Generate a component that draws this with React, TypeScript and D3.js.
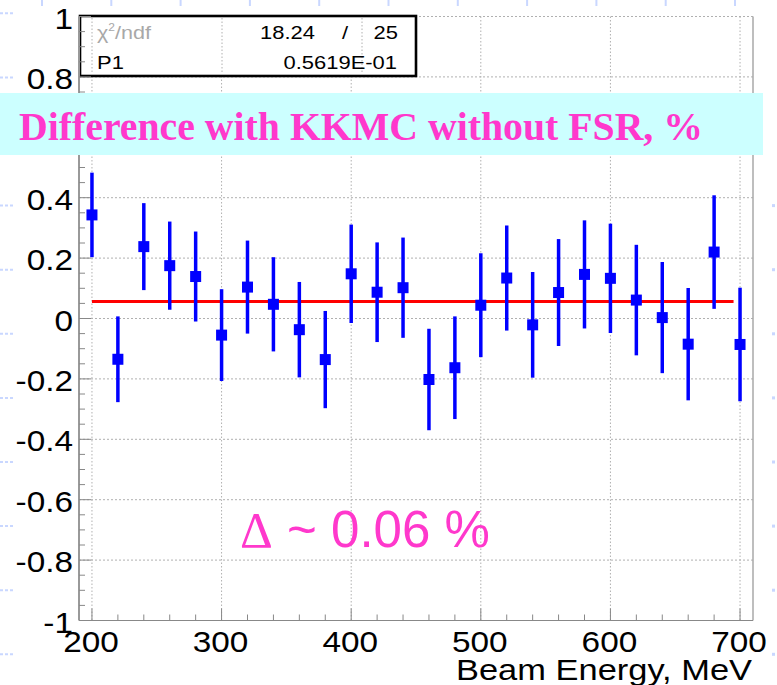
import React from "react";
import * as d3 from "d3";

// Beam energy points (MeV), relative difference (%) and its error
const energies = [200, 220, 240, 260, 280, 300, 320, 340, 360, 380, 400, 420, 440, 460, 480, 500, 520, 540, 560, 580, 600, 620, 640, 660, 680, 700];
const diffValues = [0.343, -0.135, 0.238, 0.175, 0.139, -0.055, 0.104, 0.047, -0.037, -0.136, 0.148, 0.087, 0.102, -0.202, -0.163, 0.044, 0.134, -0.021, 0.086, 0.146, 0.133, 0.061, 0.003, -0.085, 0.220, -0.086];
const diffErrors = [0.140, 0.142, 0.144, 0.146, 0.149, 0.152, 0.154, 0.156, 0.158, 0.161, 0.163, 0.165, 0.166, 0.168, 0.170, 0.172, 0.174, 0.175, 0.177, 0.179, 0.181, 0.183, 0.184, 0.186, 0.188, 0.188];

// Constant fit result
const fitP1 = 0.05619;
const fitRange = [200, 695];
const chi2Text = "18.24";
const ndfText = "25";
const p1Text = "0.5619E-01";

const xTickValues = [200, 300, 400, 500, 600, 700];
const yTickValues = [1, 0.8, 0.6, 0.4, 0.2, 0, -0.2, -0.4, -0.6, -0.8, -1];
// the 0.6 label sits under the title banner
const yLabelValues = [1, 0.8, 0.4, 0.2, 0, -0.2, -0.4, -0.6, -0.8, -1];

const bannerText = "Difference with KKMC without FSR, %";
const deltaText = "0.06 %";
const xTitle = "Beam Energy, MeV";

const W = 777;
const H = 685;
const PINK = "#ff38cc";
const SANS = "'Liberation Sans', Arial, Helvetica, sans-serif";
const SERIF = "'Liberation Serif', 'Times New Roman', serif";

export default function App() {
  const x = d3.scaleLinear().domain([190, 710]).range([79, 753]);
  const y = d3.scaleLinear().domain([-1, 1]).range([620.5, 16.5]);

  const xMinor = d3.range(200, 701, 20);
  const yMinor = d3.range(-1, 1.0001, 0.05).map((v) => +v.toFixed(2));
  const fmtY = (v: number) => String(+v.toFixed(1));

  const gridColor = "#b0b0b0";
  const slideBlue = "#c9d7ff";

  // decorative slide markers around the picture
  const sideRows = d3.range(0, 11).map((i) => 13.3 + i * 64.1);
  const topCols = d3.range(0, 11).map((i) => 42 + i * 69.3);

  const boxX0 = 80, boxX1 = 416, boxY0 = 16, boxY1 = 76;

  return (
    <svg
      width={W}
      height={H}
      viewBox={`0 0 ${W} ${H}`}
      style={{ position: "absolute", left: 0, top: 0, background: "#fff" }}
    >
      <rect x={0} y={0} width={W} height={H} fill="#fff" />

      {/* slide decoration */}
      {sideRows.map((r, i) => (
        <line key={"l" + i} x1={0} x2={15} y1={r} y2={r} stroke={slideBlue} strokeWidth={2} strokeDasharray="3,2" />
      ))}
      {sideRows.slice(3).map((r, i) => (
        <rect key={"r" + i} x={772} y={r - 1.5} width={3} height={3} fill={slideBlue} />
      ))}
      {topCols.map((c, i) => (
        <line key={"t" + i} x1={c} x2={c} y1={0} y2={6} stroke={slideBlue} strokeWidth={2} />
      ))}

      {/* grid */}
      {xTickValues.map((v) => (
        <line key={"gx" + v} x1={x(v)} x2={x(v)} y1={y(1)} y2={y(-1)} stroke={gridColor} strokeWidth={1} strokeDasharray="1.5,2" />
      ))}
      {yTickValues.filter((v) => Math.abs(v) < 1).map((v) => (
        <line key={"gy" + v} x1={x(190)} x2={x(710)} y1={y(v)} y2={y(v)} stroke={gridColor} strokeWidth={1} strokeDasharray="2,2" />
      ))}
      <line x1={x(190)} x2={x(710)} y1={y(1)} y2={y(1)} stroke={gridColor} strokeWidth={1} strokeDasharray="2,2" />

      {/* statistics box */}
      <rect x={boxX0} y={boxY0} width={boxX1 - boxX0} height={boxY1 - boxY0} fill="#fff" stroke="#000" strokeWidth={2.6} />
      {[92, 222, 362].map((c) => (
        <line key={"bx" + c} x1={c} x2={c} y1={boxY0 + 2} y2={boxY1 - 2} stroke={gridColor} strokeWidth={1} strokeDasharray="1.5,2" />
      ))}
      <g fontFamily={SANS} fontSize={18}>
        <text transform="translate(97,39) scale(1.2,1)" fill="#a8a8a8" fontWeight={300}>
          χ<tspan fontSize={10} dy={-8}>2</tspan><tspan dy={8}>/ndf</tspan>
        </text>
        <text transform="translate(315,39) scale(1.22,1)" textAnchor="end" fill="#000">{chi2Text}</text>
        <text transform="translate(348,39) scale(1.22,1)" textAnchor="end" fill="#000">/</text>
        <text transform="translate(398,39) scale(1.22,1)" textAnchor="end" fill="#000">{ndfText}</text>
        <text transform="translate(97,69) scale(1.22,1)" fill="#000">P1</text>
        <text transform="translate(397,69) scale(1.22,1)" textAnchor="end" fill="#000">{p1Text}</text>
      </g>

      {/* frame and axes */}
      <line x1={x(710)} x2={x(710)} y1={y(1)} y2={y(-1)} stroke="#a8a8a8" strokeWidth={1.5} />
      <line x1={x(190)} x2={x(710)} y1={y(-1)} y2={y(-1)} stroke="#888" strokeWidth={1.2} />
      <line x1={x(190)} x2={x(190)} y1={y(1)} y2={y(-1)} stroke="#999" strokeWidth={2} />

      {yMinor.map((v) => {
        const major = Math.abs(v * 5 - Math.round(v * 5)) < 1e-6;
        return (
          <line key={"yt" + v} x1={x(190)} x2={x(190) + (major ? 12 : 6)} y1={y(v)} y2={y(v)} stroke="#888" strokeWidth={1} />
        );
      })}
      {xMinor.map((v) => {
        const major = v % 100 === 0;
        return (
          <line key={"xt" + v} x1={x(v)} x2={x(v)} y1={y(-1)} y2={y(-1) - (major ? 12 : 6)} stroke="#888" strokeWidth={1} />
        );
      })}

      <g fontFamily={SANS} fontSize={29} fill="#000">
        {yLabelValues.map((v) => (
          <text key={"yl" + v} transform={`translate(73,${y(v) + 12}) scale(1.15,1)`} textAnchor="end">
            {fmtY(v)}
          </text>
        ))}
        {xTickValues.map((v) => (
          <text key={"xl" + v} transform={`translate(${x(v) - 1},652) scale(1.15,1)`} textAnchor="middle">
            {v}
          </text>
        ))}
      </g>
      <text x={752} y={680} textAnchor="end" fontFamily={SANS} fontSize={30} textLength={296} lengthAdjust="spacingAndGlyphs" fill="#000">
        {xTitle}
      </text>

      {/* fit line */}
      <line x1={x(fitRange[0])} x2={x(fitRange[1])} y1={y(fitP1)} y2={y(fitP1)} stroke="#ff0000" strokeWidth={3} />

      {/* data points with errors */}
      {energies.map((e, i) => (
        <g key={"p" + e}>
          <line
            x1={x(e)}
            x2={x(e)}
            y1={y(diffValues[i] + diffErrors[i])}
            y2={y(diffValues[i] - diffErrors[i])}
            stroke="#0000ff"
            strokeWidth={3.5}
          />
          <rect x={x(e) - 5.5} y={y(diffValues[i]) - 5.5} width={11} height={11} fill="#0000ff" />
        </g>
      ))}

      {/* title banner */}
      <rect x={0} y={93} width={763} height={62} fill="#ccffff" />
      <text x={19} y={140} fontFamily={SERIF} fontWeight="bold" fontSize={40} textLength={684} lengthAdjust="spacingAndGlyphs" fill={PINK}>
        {bannerText}
      </text>

      {/* annotation */}
      <text x={240} y={547} fontFamily={SANS} fontSize={51} textLength={250} lengthAdjust="spacingAndGlyphs" fill={PINK}>
        <tspan fontFamily={SERIF}>Δ</tspan> ~ {deltaText}
      </text>
    </svg>
  );
}
